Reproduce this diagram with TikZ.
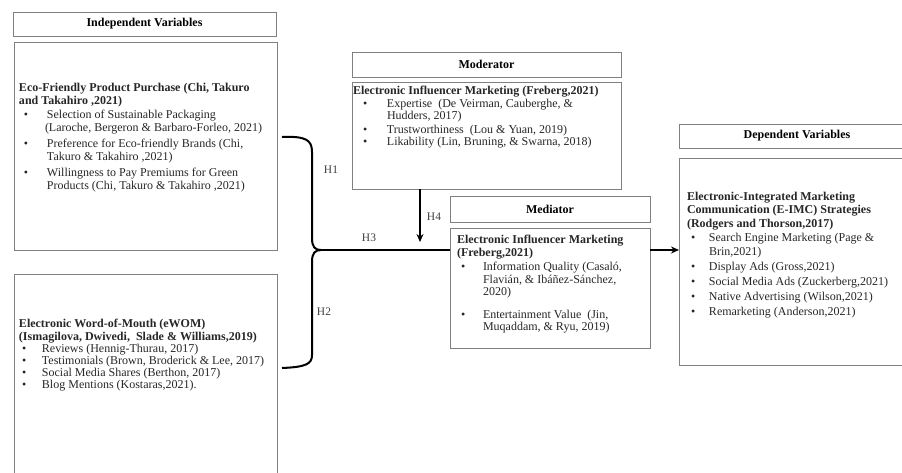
\documentclass[tikz,border=0pt]{standalone}
\usepackage{fontspec}
\setmainfont{Liberation Serif}
\usetikzlibrary{arrows.meta}
\tikzset{
  frame/.style={draw=black!50, line width=0.9pt, inner sep=0pt, outer sep=0pt, anchor=north west},
  hdr/.style={font=\bfseries\fontsize{12}{14}\selectfont},
  body/.style={anchor=north west, inner sep=0pt, outer sep=0pt, align=left, text=black!85},
  conn/.style={line width=2pt, black},
  hlab/.style={font=\fontsize{11.5}{13}\selectfont, text=black!75, inner sep=0pt},
}
\newcommand\bi[3]{\hspace*{#1pt}\makebox[\dimexpr#2pt-#1pt\relax][l]{\textbullet}#3}
\newcommand\bc[2]{\hspace*{#1pt}#2}
\begin{document}
\begin{tikzpicture}[x=1pt,y=-1pt]
\useasboundingbox (0,0) rectangle (902,472);
\clip (0,0) rectangle (902,472);
% headers
\node[frame,hdr,minimum width=263pt,minimum height=24pt] (indhdr) at (13,12) {Independent Variables};
\node[frame,hdr,minimum width=269pt,minimum height=25pt] (modhdr) at (352,52) {Moderator};
\node[frame,hdr,minimum width=200pt,minimum height=26pt] (medhdr) at (450,196) {Mediator};
\node[frame,hdr,minimum width=236pt,minimum height=24pt] (dephdr) at (679,124) {Dependent Variables};
% boxes
\node[frame,minimum width=263pt,minimum height=208pt] (ecobox) at (14,42) {};
\node[frame,minimum width=263pt,minimum height=215pt] (ewombox) at (14,274) {};
\node[frame,minimum width=269pt,minimum height=107pt] (modbox) at (352,82) {};
\node[frame,minimum width=200pt,minimum height=120pt] (medbox) at (450,228) {};
\node[frame,minimum width=240pt,minimum height=207pt] (depbox) at (679,158) {};
% texts
\node[body,font=\fontsize{12}{13.5}\selectfont] (ecotxt) at (19,83) {%
{\bfseries Eco-Friendly Product Purchase (Chi, Takuro}\\
{\bfseries and Takahiro ,2021)}\\
\bi{5}{28}{Selection of Sustainable Packaging}\\
\bc{26}{(Laroche, Bergeron \& Barbaro-Forleo, 2021)}\\[2pt]
\bi{5}{28}{Preference for Eco-friendly Brands (Chi,}\\
\bc{28}{Takuro \& Takahiro ,2021)}\\[2pt]
\bi{5}{28}{Willingness to Pay Premiums for Green}\\
\bc{28}{Products (Chi, Takuro \& Takahiro ,2021)}};
\node[body,font=\fontsize{12}{12}\selectfont] (ewomtxt) at (19,319) {%
{\bfseries Electronic Word-of-Mouth (eWOM)}\\[1pt]
{\bfseries (Ismagilova, Dwivedi,\ \ Slade \& Williams,2019)}\\
\bi{3}{23}{Reviews (Hennig-Thurau, 2017)}\\
\bi{3}{23}{Testimonials (Brown, Broderick \& Lee, 2017)}\\
\bi{3}{23}{Social Media Shares (Berthon, 2017)}\\
\bi{3}{23}{Blog Mentions (Kostaras,2021).}};
\node[body,font=\fontsize{12}{12}\selectfont] (modtxt) at (353,86) {%
{\bfseries Electronic Influencer Marketing (Freberg,2021)}\\[1pt]
\bi{10}{34}{Expertise\ \ (De Veirman, Cauberghe, \&}\\
\bc{34}{Hudders, 2017)}\\[2pt]
\bi{10}{34}{Trustworthiness\ \ (Lou \& Yuan, 2019)}\\
\bi{10}{34}{Likability (Lin, Bruning, \& Swarna, 2018)}};
\node[body,font=\fontsize{12}{12.5}\selectfont] (medtxt) at (457,235) {%
{\bfseries Electronic Influencer Marketing}\\[1pt]
{\bfseries (Freberg,2021)}\\[1.5pt]
\bi{4}{26}{Information Quality (Casaló,}\\
\bc{26}{Flavián, \& Ibáñez-Sánchez,}\\
\bc{26}{2020)}\\[10pt]
\bi{4}{26}{Entertainment Value\ \ (Jin,}\\
\bc{26}{Muqaddam, \& Ryu, 2019)}};
\node[body,font=\fontsize{12}{13.5}\selectfont] (deptxt) at (687,192) {%
{\bfseries Electronic-Integrated Marketing}\\
{\bfseries Communication (E-IMC) Strategies}\\
{\bfseries (Rodgers and Thorson,2017)}\\[1pt]
\bi{4}{22}{Search Engine Marketing (Page \&}\\
\bc{22}{Brin,2021)}\\[2pt]
\bi{4}{22}{Display Ads (Gross,2021)}\\[1.5pt]
\bi{4}{22}{Social Media Ads (Zuckerberg,2021)}\\[1.5pt]
\bi{4}{22}{Native Advertising (Wilson,2021)}\\[1.5pt]
\bi{4}{22}{Remarketing (Anderson,2021)}};
% brace and connectors
\coordinate (tip) at (321,250);
\coordinate (bracetop) at (282,137);
\coordinate (bracebot) at (282,368);
\draw[conn] (bracetop) .. controls (306,136) and (312,140) .. (312,152) -- (312,238) .. controls (312,247) and (315,250) .. (tip);
\draw[conn] (tip) .. controls (315,250) and (312,253) .. (312,262) -- (312,355) .. controls (312,364) and (306,367) .. (bracebot);
\draw[conn] (tip) -- (tip -| medbox.west);
\coordinate (h4end) at (420,242);
\draw[conn,-{Stealth[length=8pt,width=7pt]}] (modbox.south -| h4end) -- (h4end);
\coordinate (mdy) at (660,250);
\draw[conn,-{Stealth[length=8pt,width=7pt]}] (medbox.east |- mdy) -- (depbox.west |- mdy);
% labels
\node[hlab] (h1) at (331,170) {H1};
\node[hlab] (h2) at (324,312) {H2};
\node[hlab] (h3) at (369,238) {H3};
\node[hlab] (h4) at (434,217) {H4};
\end{tikzpicture}
\end{document}
